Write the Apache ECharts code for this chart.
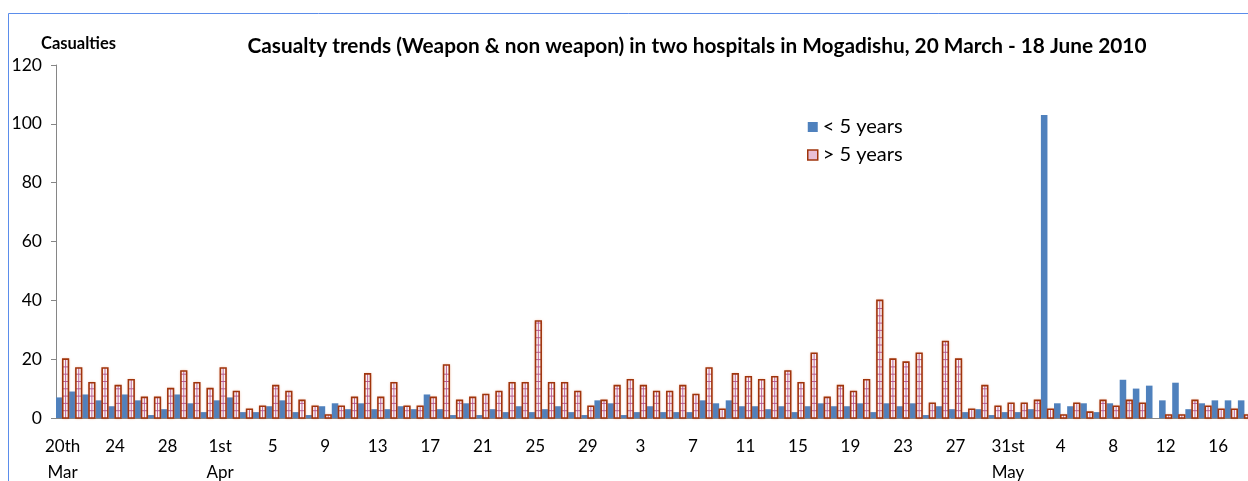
<!DOCTYPE html>
<html><head><meta charset="utf-8">
<script src="https://cdn.jsdelivr.net/npm/echarts@6/dist/echarts.min.js"></script>
<style>html,body{margin:0;padding:0;background:#fff;overflow:hidden}#c{width:1248px;height:481px}</style>
</head><body><div id="c"></div>
<script>
// 20 March - 18 June 2010, one category per day
const startDay = { year: 2010, month: 2, day: 20 };
const dayCount = 91;
const under5 = [7,9,8,6,4,8,6,1,3,8,5,2,6,7,2,2,4,6,2,1,4,5,3,5,3,3,4,3,8,3,
  1,5,1,3,2,4,2,3,4,2,1,6,5,1,2,4,2,2,2,6,5,6,4,4,3,4,2,4,5,4,
  4,5,2,5,4,5,1,4,3,2,3,1,2,2,3,103,5,4,5,2,5,13,10,11,6,12,3,5,6,6,6];
const over5 = [20,17,12,17,11,13,7,7,10,16,12,10,17,9,3,4,11,9,6,4,1,4,7,15,7,12,4,4,7,18,
  6,7,8,9,12,12,33,12,12,9,4,6,11,13,11,9,9,11,8,17,3,15,14,13,14,16,12,22,7,11,
  9,13,40,20,19,22,5,26,20,3,11,4,5,5,6,3,1,5,2,6,4,6,5,0,1,1,6,4,3,3,1];
const tickLabels = ['20th\nMar','24','28','1st\nApr','5','9','13','17','21','25','29','3','7','11','15','19','23','27','31st\nMay','4','8','12','16'];
const labelEvery = 4;
const seriesNames = ['< 5 years', '> 5 years'];
const yTicks = { min: 0, max: 120, interval: 20 };

const categories = [];
for (let i = 0; i < dayCount; i++) {
  const d = new Date(startDay.year, startDay.month, startDay.day + i);
  categories.push(d.getDate() + '/' + (d.getMonth() + 1));
}

const FONT = 'Lato, "Open Sans", sans-serif';
const BLUE = '#4F81BD';
const RED_BORDER = '#A0340C';
const GRID_LINE = '#B4548C';

function renderBlue(params, api) {
  const i = api.value(0), v = api.value(1);
  const p0 = api.coord([i, 0]), p1 = api.coord([i, v]);
  const w = api.size([1, 0])[0];
  return { type: 'rect', shape: { x: p0[0] - w / 2, y: p1[1], width: w / 2, height: p0[1] - p1[1] }, style: { fill: BLUE } };
}
function renderRed(params, api) {
  const i = api.value(0), v = api.value(1);
  if (!v) return null;
  const p0 = api.coord([i, 0]), p1 = api.coord([i, v]);
  const w = api.size([1, 0])[0];
  const x0 = p0[0] + 0.2, x1 = p0[0] + w / 2 - 0.7;
  const yt = p1[1], yb = p0[1];
  const children = [{ type: 'rect', shape: { x: x0, y: yt, width: x1 - x0, height: yb - yt },
    style: { fill: '#fdf3f7', shadowBlur: 3, shadowColor: 'rgba(230,130,80,0.8)' } }];
  for (let y = yb - 7.3; y > yt + 2; y -= 7.3) {
    children.push({ type: 'line', shape: { x1: x0, y1: y, x2: x1, y2: y }, style: { stroke: GRID_LINE, lineWidth: 1, opacity: 0.9 } });
  }
  const xm = (x0 + x1) / 2;
  children.push({ type: 'line', shape: { x1: xm, y1: yt, x2: xm, y2: yb }, style: { stroke: GRID_LINE, lineWidth: 1, opacity: 0.9 } });
  children.push({ type: 'rect', shape: { x: x0, y: yt, width: x1 - x0, height: yb - yt }, style: { fill: 'none', stroke: RED_BORDER, lineWidth: 1.6 } });
  return { type: 'group', children };
}

const chart = echarts.init(document.getElementById('c'), null, { renderer: 'canvas' });
chart.setOption({
  backgroundColor: '#fff',
  animation: false,
  textStyle: { fontFamily: FONT },
  title: [
    { text: 'Casualty trends (Weapon & non weapon) in two hospitals in Mogadishu, 20 March - 18 June 2010',
      left: 692, top: 31, textAlign: 'center',
      textStyle: { fontFamily: FONT, fontWeight: 'bold', fontSize: 20.8, color: '#000' } },
    { text: 'Casualties', left: 36, top: 30,
      textStyle: { fontFamily: FONT, fontWeight: 'bold', fontSize: 16.5, color: '#000' } }
  ],
  legend: {
    orient: 'vertical', left: 802, top: 112, itemWidth: 10, itemHeight: 10, itemGap: 8,
    textStyle: { fontFamily: FONT, fontSize: 20, lineHeight: 20, color: '#000' },
    data: [
      { name: seriesNames[0], icon: 'rect', itemStyle: { color: BLUE } },
      { name: seriesNames[1], icon: 'rect', itemStyle: { color: '#E9BFD6', borderColor: RED_BORDER, borderWidth: 1.5 } }
    ]
  },
  graphic: [{ type: 'rect', shape: { x: 8.5, y: 13.5, width: 1400, height: 600 }, style: { fill: 'none', stroke: '#5B8DEB', lineWidth: 1 }, z: 0 }],
  grid: { left: 56, top: 65, width: 1195, height: 353, containLabel: false, outerBoundsMode: 'none' },
  xAxis: {
    type: 'category', data: categories, boundaryGap: true,
    axisLine: { lineStyle: { color: '#868686', width: 1 } },
    axisTick: { interval: 0, length: 5, lineStyle: { color: '#868686' } },
    axisLabel: { interval: labelEvery - 1, margin: 16, fontSize: 17, color: '#000', lineHeight: 26, fontFamily: FONT,
      formatter: (val, idx) => tickLabels[Math.round(idx / labelEvery)] || '' }
  },
  yAxis: {
    type: 'value', min: yTicks.min, max: yTicks.max, interval: yTicks.interval,
    splitLine: { show: false },
    axisLine: { show: true, lineStyle: { color: '#868686', width: 1 } },
    axisTick: { show: true, length: 5, lineStyle: { color: '#868686' } },
    axisLabel: { margin: 14, fontSize: 17.5, color: '#000', fontFamily: FONT }
  },
  series: [
    { name: seriesNames[0], type: 'custom', renderItem: renderBlue, encode: { x: 0, y: 1 },
      itemStyle: { color: BLUE }, data: under5.map((v, i) => [i, v]) },
    { name: seriesNames[1], type: 'custom', renderItem: renderRed, encode: { x: 0, y: 1 },
      itemStyle: { color: RED_BORDER }, data: over5.map((v, i) => [i, v]) }
  ]
});
</script></body></html>
